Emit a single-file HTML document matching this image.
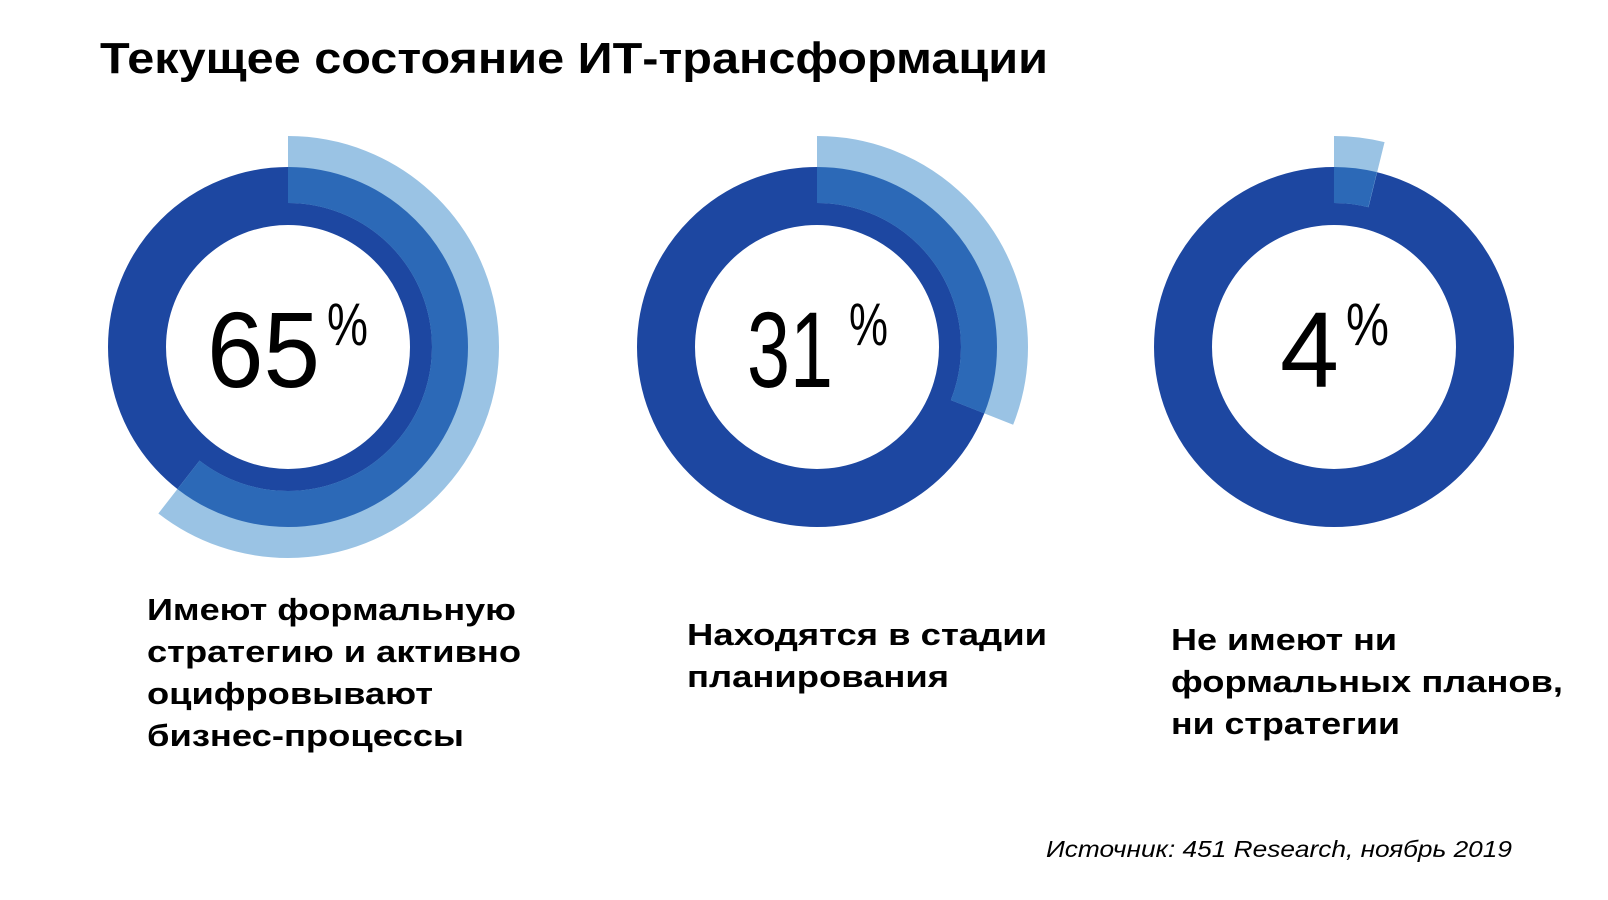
<!DOCTYPE html>
<html><head><meta charset="utf-8"><style>
html,body{margin:0;padding:0;background:#fff;}
svg{display:block;}
</style></head><body>
<svg width="1608" height="900" viewBox="0 0 1608 900" xmlns="http://www.w3.org/2000/svg">
<text x="100" y="73" font-family="Liberation Sans, sans-serif" font-weight="bold" font-size="44" fill="#000" textLength="948" lengthAdjust="spacingAndGlyphs">Текущее состояние ИТ-трансформации</text>

<!-- donut 1 -->
<g transform="translate(288,347)">
<circle r="151" fill="none" stroke="#1d47a1" stroke-width="58"/>
<circle r="177.5" fill="none" stroke="#9ac3e4" stroke-width="67" stroke-dasharray="674.8 2000" transform="rotate(-90)"/>
<circle r="162" fill="none" stroke="#2c69b7" stroke-width="36" stroke-dasharray="615.8 2000" transform="rotate(-90)"/>
</g>
<!-- donut 2 -->
<g transform="translate(817,347)">
<circle r="151" fill="none" stroke="#1d47a1" stroke-width="58"/>
<circle r="177.5" fill="none" stroke="#9ac3e4" stroke-width="67" stroke-dasharray="345.7 2000" transform="rotate(-90)"/>
<circle r="162" fill="none" stroke="#2c69b7" stroke-width="36" stroke-dasharray="315.5 2000" transform="rotate(-90)"/>
</g>
<!-- donut 3 -->
<g transform="translate(1334,347)">
<circle r="151" fill="none" stroke="#1d47a1" stroke-width="58"/>
<circle r="177.5" fill="none" stroke="#9ac3e4" stroke-width="67" stroke-dasharray="43 2000" transform="rotate(-90)"/>
<circle r="162" fill="none" stroke="#2c69b7" stroke-width="36" stroke-dasharray="39 2000" transform="rotate(-90)"/>
</g>

<g font-family="Liberation Sans, DejaVu Sans, sans-serif" fill="#000">
<text x="207" y="387" font-size="108" textLength="113" lengthAdjust="spacingAndGlyphs">65</text>
<text x="327" y="345" font-size="60" textLength="41" lengthAdjust="spacingAndGlyphs">%</text>
<text x="747" y="387" font-size="108" textLength="86" lengthAdjust="spacingAndGlyphs">31</text>
<text x="849" y="345" font-size="60" textLength="39" lengthAdjust="spacingAndGlyphs">%</text>
<text x="1280" y="387" font-size="108" textLength="59" lengthAdjust="spacingAndGlyphs">4</text>
<text x="1346" y="345" font-size="60" textLength="43" lengthAdjust="spacingAndGlyphs">%</text>
</g>

<g font-family="Liberation Sans, sans-serif" font-weight="bold" font-size="31" fill="#000">
<text x="147" y="620" textLength="369" lengthAdjust="spacingAndGlyphs">Имеют формальную</text>
<text x="147" y="662" textLength="374" lengthAdjust="spacingAndGlyphs">стратегию и активно</text>
<text x="147" y="704" textLength="286" lengthAdjust="spacingAndGlyphs">оцифровывают</text>
<text x="147" y="746" textLength="317" lengthAdjust="spacingAndGlyphs">бизнес-процессы</text>
<text x="687" y="645" textLength="360" lengthAdjust="spacingAndGlyphs">Находятся в стадии</text>
<text x="687" y="687" textLength="262" lengthAdjust="spacingAndGlyphs">планирования</text>
<text x="1171" y="650" textLength="226" lengthAdjust="spacingAndGlyphs">Не имеют ни</text>
<text x="1171" y="692" textLength="392" lengthAdjust="spacingAndGlyphs">формальных планов,</text>
<text x="1171" y="734" textLength="229" lengthAdjust="spacingAndGlyphs">ни стратегии</text>
</g>
<text x="1046" y="857" font-family="Liberation Sans, sans-serif" font-style="italic" font-size="23" fill="#000" textLength="466" lengthAdjust="spacingAndGlyphs">Источник: 451 Research, ноябрь 2019</text>
</svg>
</body></html>
